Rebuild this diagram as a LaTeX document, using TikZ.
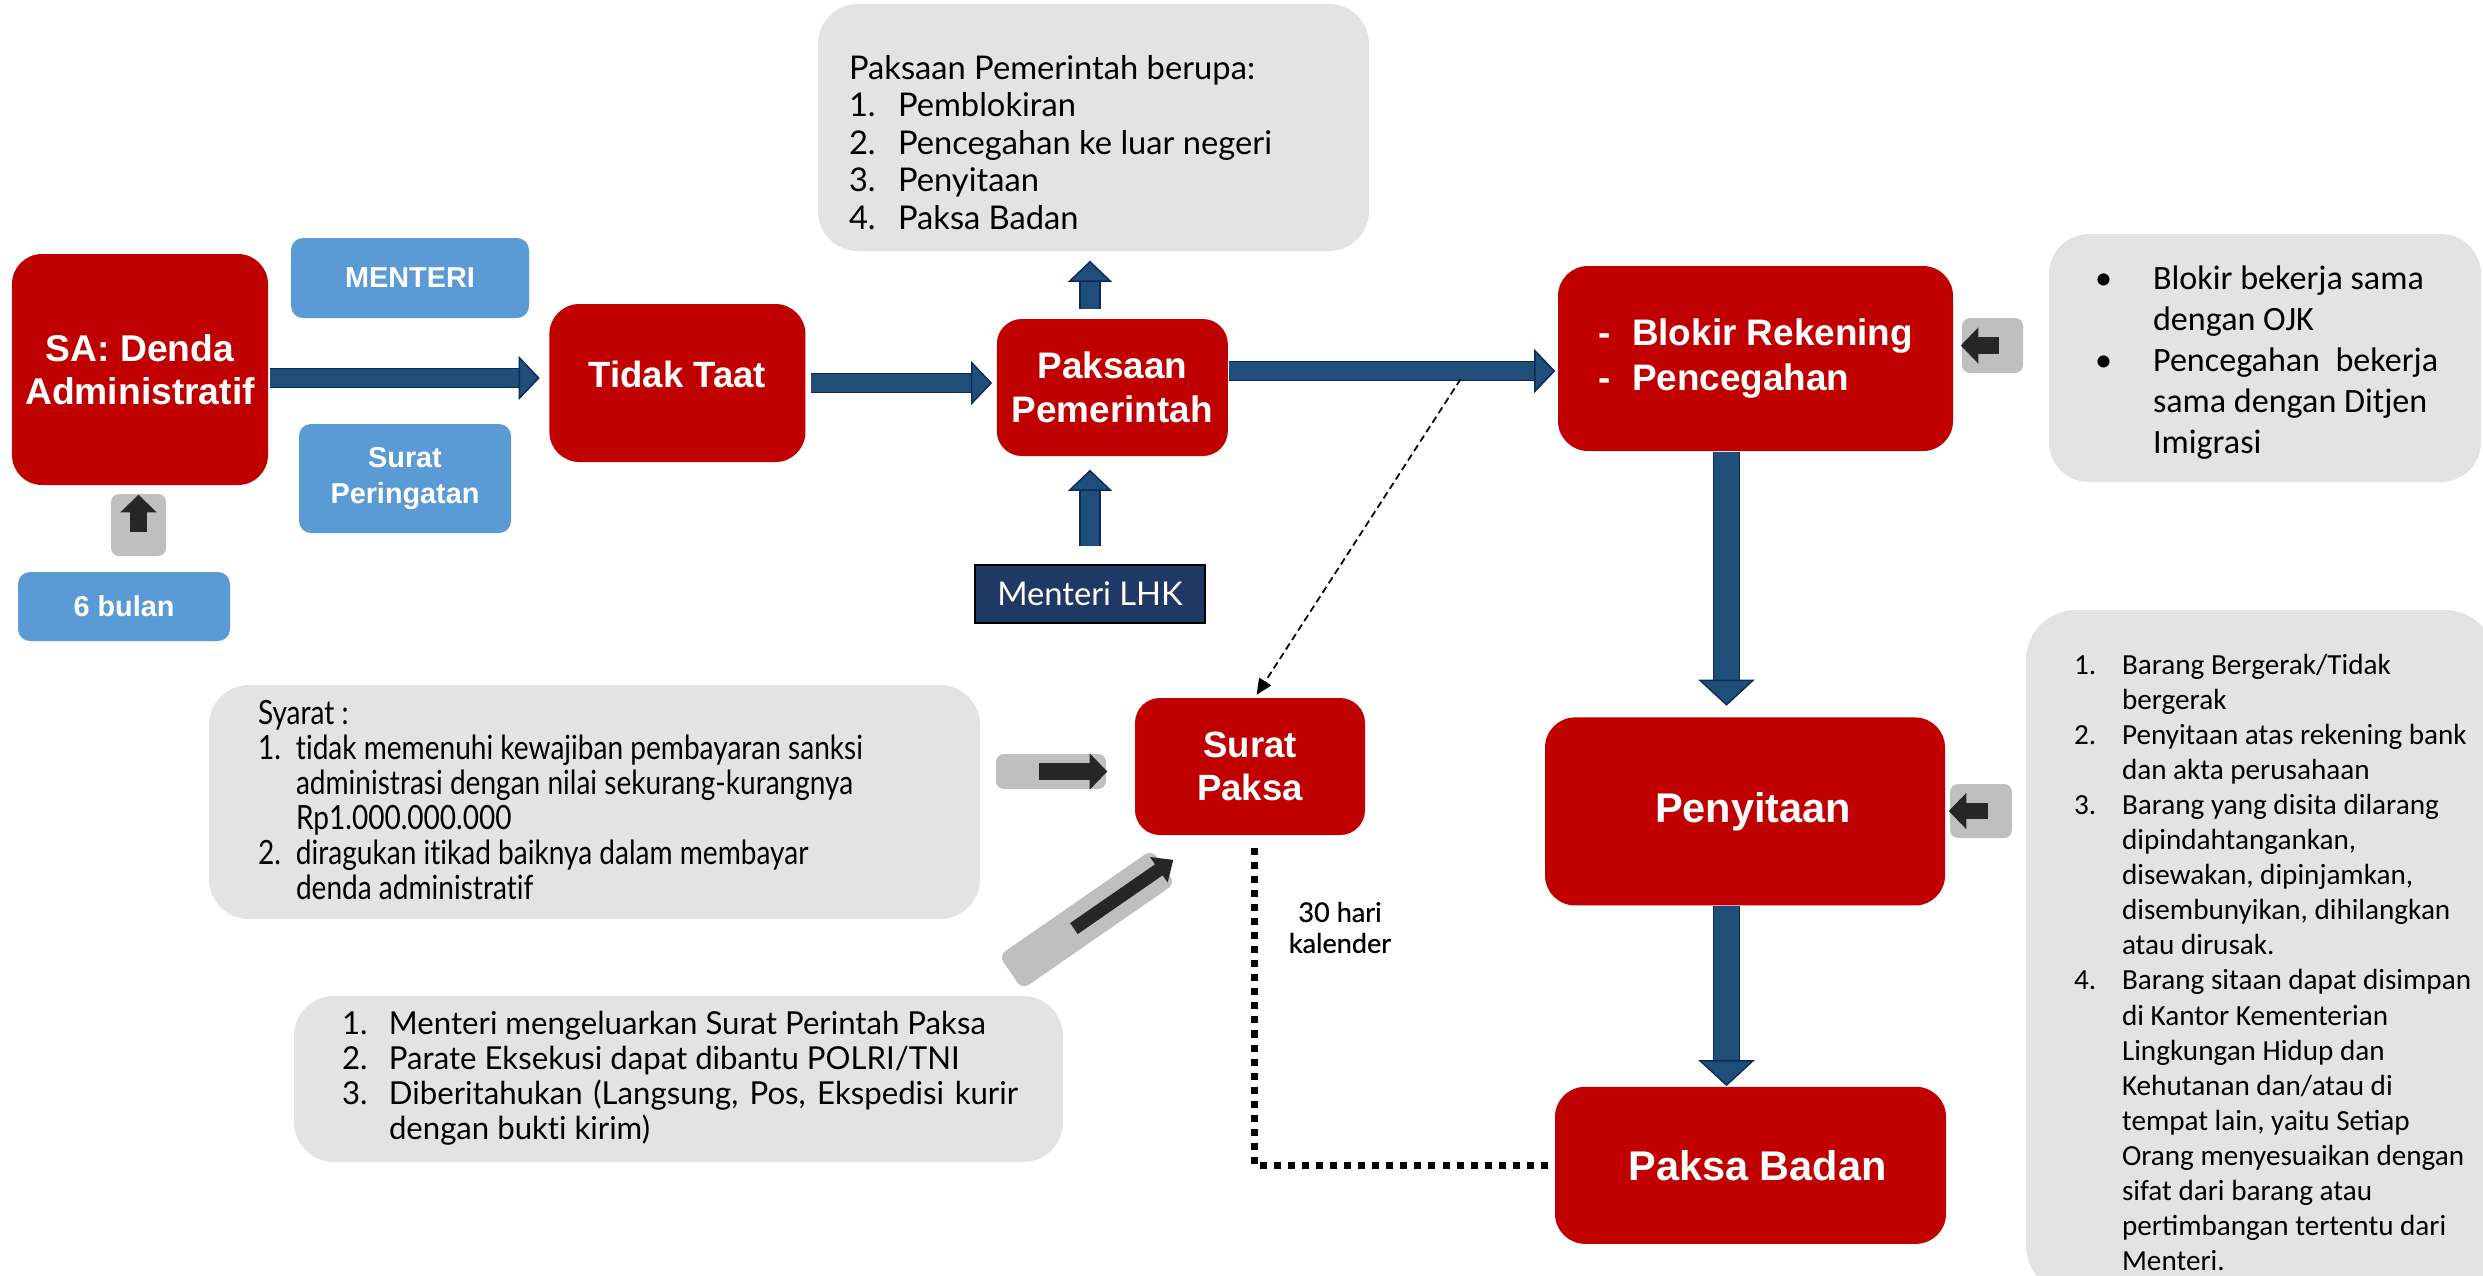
\documentclass[tikz,border=0pt]{standalone}
\usepackage{fontspec}
\usepackage{array}
\usetikzlibrary{arrows.meta,positioning,calc}
\newfontfamily\arialfont{Liberation Sans}
\newfontfamily\avenirfont[Ligatures=NoCommon]{Lato}
\newfontfamily\avenircond[Ligatures=NoCommon, FakeStretch=0.84]{Lato}
\newfontfamily\avenirnarrow[Ligatures=NoCommon, FakeStretch=0.985]{Lato}
\newfontfamily\avenirmed[Ligatures=NoCommon, FakeBold=0.6]{Lato}
\newfontfamily\calibrifont{Carlito}
\definecolor{boxred}{HTML}{C00000}
\definecolor{boxblue}{HTML}{5B9BD5}
\definecolor{boxnavy}{HTML}{203864}
\definecolor{arrowblue}{HTML}{1F4E79}
\definecolor{arrowedge}{HTML}{0B2A5B}
\definecolor{notegray}{HTML}{E3E3E3}
\definecolor{tabgray}{HTML}{BFBFBF}
\definecolor{tipblack}{HTML}{262626}
\tikzset{
  sared/.style={fill=boxred, rounded corners=3mm, text=white, align=center, inner sep=2pt},
  sablue/.style={fill=boxblue, rounded corners=1.2mm, text=white, align=center, inner sep=2pt, font=\arialfont\bfseries\fontsize{8.2}{10.5}\selectfont},
  sanote/.style={fill=notegray, rounded corners=4mm, inner sep=0pt},
  satext/.style={inner sep=0pt, anchor=base west, align=left},
  satab/.style={fill=tabgray, rounded corners=0.8mm, inner sep=0pt},
  saflow/.style={draw=arrowedge, line width=0.4pt, double=arrowblue, double distance=4.9pt, -{Triangle[length=6pt, width=12.5pt, fill=arrowblue, line width=0.4pt]}},
  sadrop/.style={draw=arrowedge, line width=0.4pt, double=arrowblue, double distance=6.9pt, -{Triangle[length=7.4pt, width=16pt, fill=arrowblue, line width=0.4pt]}},
  saup/.style={draw=arrowedge, line width=0.4pt, double=arrowblue, double distance=5.2pt, -{Triangle[length=6pt, width=12.5pt, fill=arrowblue, line width=0.4pt]}},
  sapush/.style={draw=tipblack, line width=4.6pt, -{Triangle[length=5pt, width=10pt]}},
  sahint/.style={draw=black, line width=0.5pt, dash pattern=on 2pt off 1.2pt, -{Triangle[length=4.5pt, width=4pt]}},
  sawait/.style={draw=black, line width=2pt, dash pattern=on 2pt off 2pt}
}
\begin{document}
\begin{tikzpicture}
\useasboundingbox (0,0) rectangle (24.83,-12.75);

\node[sared, minimum width=2.56cm, minimum height=2.31cm, font=\arialfont\bfseries\fontsize{10.6}{12.2}\selectfont] (sa) at (1.40,-3.695) {SA: Denda\\Administratif};
\node[sared, minimum width=2.56cm, minimum height=1.58cm, right=2.80cm of sa, yshift=-0.135cm, font=\arialfont\bfseries\fontsize{10.4}{12.4}\selectfont] (tt) {\raisebox{0.09cm}[\height][\depth]{Tidak Taat}};
\node[sared, rounded corners=2.5mm, minimum width=2.31cm, minimum height=1.37cm, right=1.90cm of tt, yshift=-0.045cm, font=\arialfont\bfseries\fontsize{10.5}{12.5}\selectfont] (pp) {Paksaan\\Pemerintah};
\node[sared, minimum width=3.95cm, minimum height=1.85cm, font=\arialfont\bfseries\fontsize{10.5}{12.8}\selectfont] (br) at (17.555,-3.585) {\begin{tabular}{@{}p{0.34cm}@{}l@{}}-&Blokir Rekening\\-&Pencegahan\end{tabular}};
\node[sared, minimum width=4.00cm, minimum height=1.88cm, below=2.65cm of br, xshift=-0.105cm, font=\arialfont\bfseries\fontsize{11.8}{14}\selectfont] (py) {\hspace*{0.16cm}Penyitaan};
\node[sared, minimum width=3.91cm, minimum height=1.57cm, below=1.80cm of py, xshift=0.055cm, font=\arialfont\bfseries\fontsize{11.8}{14}\selectfont] (pb) {\hspace*{0.14cm}Paksa Badan};
\node[sared, rounded corners=2.5mm, minimum width=2.30cm, minimum height=1.37cm, font=\arialfont\bfseries\fontsize{10.4}{12.4}\selectfont] (sp) at (12.50,-7.665) {Surat\\Paksa};

\node[sablue, minimum width=2.38cm, minimum height=0.80cm] (menteri) at (4.10,-2.78) {MENTERI};
\node[sablue, minimum width=2.12cm, minimum height=1.09cm] (peringatan) at (4.05,-4.785) {Surat\\Peringatan};
\node[sablue, minimum width=2.12cm, minimum height=0.69cm] (bulan) at (1.24,-6.065) {6 bulan};
\node[fill=boxnavy, draw=black, line width=0.6pt, minimum width=2.30cm, minimum height=0.58cm, text=white, font=\avenirfont\fontsize{9.3}{11}\selectfont] (lhk) at (10.90,-5.94) {Menteri LHK};

\node[sanote, minimum width=5.51cm, minimum height=2.47cm] (pplist) at (10.935,-1.275) {};
\node[satext, font=\avenirfont\fontsize{9.3}{10.65}\selectfont] (pptext) at ($(pplist.north west)+(0.31,-0.76)$) {\begin{tabular}[t]{@{}p{0.49cm}@{}l@{}}
\multicolumn{2}{@{}l@{}}{Paksaan Pemerintah berupa:}\\
1.&Pemblokiran\\
2.&Pencegahan ke luar negeri\\
3.&Penyitaan\\
4.&Paksa Badan
\end{tabular}};

\node[sanote, minimum width=4.32cm, minimum height=2.48cm] (brinfo) at (22.65,-3.58) {};
\node[satext, font=\calibrifont\fontsize{9.7}{11.7}\selectfont] (brtext) at ($(brinfo.north west)+(0.46,-0.56)$) {\begin{tabular}[t]{@{}p{0.58cm}@{}l@{}}
\textbullet&Blokir bekerja sama\\
&dengan OJK\\
\textbullet&Pencegahan\ \ bekerja\\
&sama dengan Ditjen\\
&Imigrasi
\end{tabular}};

\node[sanote, rounded corners=5mm, minimum width=4.69cm, minimum height=6.85cm] (pylist) at (22.605,-9.525) {};
\node[satext, font=\calibrifont\fontsize{8.3}{9.98}\selectfont] (pytext) at ($(pylist.north west)+(0.48,-0.65)$) {\begin{tabular}[t]{@{}p{0.48cm}@{}l@{}}
1.&Barang Bergerak/Tidak\\
&bergerak\\
2.&Penyitaan atas rekening bank\\
&dan akta perusahaan\\
3.&Barang yang disita dilarang\\
&dipindahtangankan,\\
&disewakan, dipinjamkan,\\
&disembunyikan, dihilangkan\\
&atau dirusak.\\
4.&Barang sitaan dapat disimpan\\
&di Kantor Kementerian\\
&Lingkungan Hidup dan\\
&Kehutanan dan/atau di\\
&tempat lain, yaitu Setiap\\
&Orang menyesuaikan dengan\\
&sifat dari barang atau\\
&pertimbangan tertentu dari\\
&Menteri.
\end{tabular}};

\node[sanote, minimum width=7.71cm, minimum height=2.34cm] (syarat) at (5.945,-8.02) {};
\node[satext, font=\avenircond\fontsize{9.5}{9.95}\selectfont] (syarattext) at ($(syarat.north west)+(0.49,-0.40)$) {\begin{tabular}[t]{@{}p{0.38cm}@{}l@{}}
\multicolumn{2}{@{}l@{}}{Syarat :}\\
1.&tidak memenuhi kewajiban pembayaran sanksi\\
&administrasi dengan nilai sekurang-kurangnya\\
&Rp1.000.000.000\\
2.&diragukan itikad baiknya dalam membayar\\
&denda administratif
\end{tabular}};

\node[sanote, minimum width=7.69cm, minimum height=1.66cm] (perintah) at (6.785,-10.79) {};
\node[satext, font=\avenirnarrow\fontsize{9}{9.96}\selectfont] (perintahtext) at ($(perintah.north west)+(0.48,-0.39)$) {\begin{tabular}[t]{@{}p{0.47cm}@{}l@{}}
1.&Menteri mengeluarkan Surat Perintah Paksa\\
2.&Parate Eksekusi dapat dibantu POLRI/TNI\\
3.&\makebox[6.29cm][s]{Diberitahukan (Langsung, Pos, Ekspedisi kurir}\\
&dengan bukti kirim)
\end{tabular}};

\node[satab, minimum width=0.55cm, minimum height=0.62cm] (upbox) at (1.385,-5.25) {};
\node[satab, minimum width=0.61cm, minimum height=0.55cm] (brarr) at (19.925,-3.455) {};
\node[satab, minimum width=0.62cm, minimum height=0.54cm] (pyarr) at (19.81,-8.11) {};
\node[satab, minimum width=1.10cm, minimum height=0.35cm] (sparr) at (10.51,-7.715) {};
\node[satab, minimum width=1.86cm, minimum height=0.41cm, rotate=34.7] (diag) at (10.87,-9.195) {};

\node[align=center, font=\avenirmed\fontsize{7.7}{8.8}\selectfont] (hari) at (13.40,-9.275) {30 hari\\kalender};

\draw[saflow, shorten <=0.01cm, shorten >=0.09cm] ($(sa.east)+(0,-0.085)$) -- ($(sa.east -| tt.west)+(0,-0.085)$);
\draw[saflow, shorten <=0.05cm, shorten >=0.04cm] (tt.east) -- (tt.east -| pp.west);
\draw[saflow, shorten >=0.02cm] ($(pp.east)+(0,0.165)$) -- ($(pp.east -| br.west)+(0,0.165)$);
\draw[saup, shorten <=0.18cm, shorten >=0.13cm] (lhk.north) -- (lhk.north |- pp.south);
\draw[saup, shorten <=0.09cm, shorten >=0.09cm] (lhk.north |- pp.north) -- (lhk.north |- pplist.south);
\coordinate (drop) at ($(br.south)+(-0.29,0)$);
\draw[sadrop, shorten >=0.11cm] (drop) -- (drop |- py.north);
\draw[sadrop] (drop |- py.south) -- (drop |- pb.north);

\path ($(pp.east)!0.706!(pp.east -| br.west)$) ++(0,0.085) coordinate (split);
\draw[sahint, shorten >=0.03cm] (split) -- ($(sp.north)+(0.05,0)$);
\draw[sawait] ($(sp.south)+(0.04,-0.12)$) |- (pb.west);

\draw[sapush, shorten >=0.09cm] ($(upbox.south)+(0,0.25)$) -- (upbox.north |- sa.south);
\draw[sapush, shorten >=0.27cm] ($(sparr.west)+(0.44,0)$) -- (sparr.east -| sp.west);
\draw[sapush, shorten >=0.07cm] ($(brarr.east)+(-0.25,0)$) -- (brarr.west -| br.east);
\draw[sapush, shorten >=0.03cm] ($(pyarr.east)+(-0.25,0)$) -- (pyarr.west -| py.east);
\draw[sapush, line width=3.8pt, -{Triangle[length=5pt, width=8.5pt]}] ($(diag.center)!-0.17!(diag.east)$) -- ($(diag.center)!1.12!(diag.east)$);
\end{tikzpicture}
\end{document}
